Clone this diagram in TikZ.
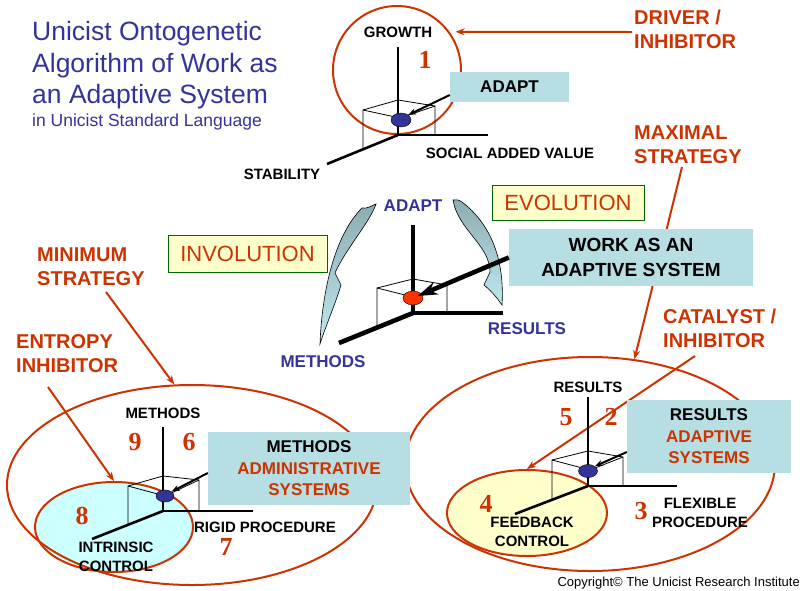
\documentclass[tikz,border=0pt]{standalone}
\usepackage{fontspec}
\setmainfont{Liberation Sans}
\newfontfamily\numfont{Liberation Serif}
\usetikzlibrary{arrows.meta,shapes.geometric}

\definecolor{titleblue}{RGB}{51,51,153}
\definecolor{accent}{RGB}{204,51,0}
\definecolor{boxteal}{RGB}{183,223,227}
\definecolor{paleyellow}{RGB}{255,255,204}
\definecolor{palecyan}{RGB}{204,255,255}
\definecolor{framegreen}{RGB}{0,102,0}
\definecolor{dotred}{RGB}{255,51,0}
\definecolor{flowtop}{RGB}{140,172,178}
\definecolor{flowbottom}{RGB}{190,232,238}

\newcommand\setfs[2]{\fontsize{#1}{#2}\selectfont}

% multi-line nodes below are placed by the baseline of their last line
\tikzset{
  titletext/.style={font=\setfs{26.5}{31.2}, text=titleblue, inner sep=0pt, anchor=base west, align=left},
  axislabel/.style={font=\setfs{15}{18.5}\bfseries, inner sep=0pt, align=center},
  bluelabel/.style={font=\setfs{17}{20}\bfseries, text=titleblue, inner sep=0pt},
  note/.style={font=\setfs{20}{24}\bfseries, text=accent, inner sep=0pt, align=left, anchor=base west},
  digit/.style={font=\numfont\setfs{26}{26}\bfseries, text=accent, inner sep=0pt},
  tealbox/.style={fill=boxteal, inner sep=0pt, align=center, font=\setfs{17}{21.5}\bfseries},
  stagebox/.style={fill=paleyellow, draw=framegreen, line width=1pt, text=accent, font=\setfs{22}{22}, inner sep=0pt},
  ring/.style={ellipse, draw=accent, line width=2pt, inner sep=0pt},
  axis/.style={line width=2.6pt},
  heavyaxis/.style={line width=4.6pt},
  frame/.style={line width=0.8pt},
  dot/.style={ellipse, inner sep=0pt, draw=black, line width=0.4pt},
  pointer/.style={draw=accent, line width=2pt, -{Stealth[length=9pt,width=7pt]}},
  boxptr/.style={line width=2pt, -{Stealth[length=8pt,width=6pt]}},
  bigptr/.style={line width=4.6pt, -{Stealth[length=20pt,width=13pt]}},
  flow/.style={top color=flowtop, bottom color=flowbottom, draw=black, line width=0.6pt},
}

\begin{document}
\begin{tikzpicture}[x=1pt,y=-1pt]
\useasboundingbox (0,0) rectangle (806,590);

% ---------- heading ----------
\node[titletext] (title) at (32,103.3) {Unicist Ontogenetic\\Algorithm of Work as\\an Adaptive System};
\node[titletext, font=\setfs{17.5}{20}] (subtitle) at (32,126) {in Unicist Standard Language};

% ---------- evolution / involution flows ----------
\path[flow] (376,204) .. controls (370,222) and (345,250) .. (335,273)
  -- (341,285) .. controls (335,305) and (326,325) .. (320,344)
  .. controls (322,290) and (335,235) .. (362,208)
  .. controls (367,209) and (371,206) .. (376,204) -- cycle;
\path[flow] (462,202) .. controls (488,222) and (505,255) .. (502,305)
  .. controls (496,296) and (489,289) .. (484,285)
  -- (490,272) .. controls (490,245) and (458,230) .. (453,200)
  .. controls (456,199) and (459,200) .. (462,202) -- cycle;

% ---------- filled inner fields ----------
\node[ring, fill=palecyan, minimum width=158pt, minimum height=90pt] (controlring) at (114,527) {};
\node[ring, fill=paleyellow, minimum width=160pt, minimum height=86pt] (feedbackring) at (527,513) {};

% ---------- outer rings ----------
\node[ring, minimum size=128pt] (growthring) at (397,70) {};
\node[ring, minimum width=370pt, minimum height=200pt] (leftring) at (192,485) {};
\node[ring, minimum width=370pt, minimum height=214pt] (rightring) at (590,464) {};

% ---------- strategy pointers ----------
\node[note] (driver) at (634,48) {DRIVER /\\INHIBITOR};
\node[note] (maximal) at (634,163) {MAXIMAL\\STRATEGY};
\node[note] (catalyst) at (663,347.5) {CATALYST /\\INHIBITOR};
\node[note] (minimum) at (37,285) {MINIMUM\\STRATEGY};
\node[note] (entropy) at (16,372) {ENTROPY\\INHIBITOR};

\coordinate (drivertail) at (632,32);
\coordinate (maximaltail) at (682,167);
\coordinate (catalysttail) at (695,356);
\coordinate (minimumtail) at (106,292);
\coordinate (entropytail) at (48,387);

\draw[pointer, shorten >=6pt] (drivertail) -- (growthring.36);
\draw[pointer] (maximaltail) -- (rightring.67.5);
\draw[pointer] (catalysttail) -- (feedbackring.north);
\draw[pointer] (minimumtail) -- (leftring.100);
\draw[pointer] (entropytail) -- (controlring.north);

% ---------- growth cube ----------
\draw[axis] (398,47) -- (398,135) -- (488,135);
\draw[axis] (398,135) -- (327,164);
\draw[frame] (363,149) -- (363,110) -- (398,100) -- (435,106) -- (435,135);
\draw[frame] (363,110) -- (400,118) -- (435,106);
\node[dot, fill=titleblue, minimum width=20pt, minimum height=14pt] (growthdot) at (401,120) {};

% ---------- central cube ----------
\draw[heavyaxis] (413,225) -- (413,313) -- (503,313);
\draw[heavyaxis] (413,313) -- (339,343);
\draw[frame] (377,327) -- (377,288) -- (413,279) -- (447,285) -- (447,313);
\draw[frame] (377,288) -- (413,297) -- (447,285);
\node[dot, fill=dotred, minimum width=20pt, minimum height=14pt] (coredot) at (413,298) {};

% ---------- methods cube ----------
\draw[axis] (163,427) -- (163,511) -- (253,511);
\draw[axis] (163,511) -- (92,539);
\draw[frame] (128,525) -- (128,486) -- (163,476) -- (199,480) -- (199,511);
\draw[frame] (128,486) -- (165,496) -- (199,480);
\node[dot, fill=titleblue, minimum width=18pt, minimum height=12pt] (methodsdot) at (165,496) {};

% ---------- results cube ----------
\draw[axis] (588,397) -- (588,486) -- (677,486);
\draw[axis] (588,486) -- (515,514);
\draw[frame] (552,500) -- (552,460) -- (588,451) -- (623,457) -- (623,486);
\draw[frame] (552,460) -- (590,470) -- (623,457);
\node[dot, fill=titleblue, minimum width=19pt, minimum height=13pt] (resultsdot) at (588,471) {};

% ---------- captions ----------
\node[tealbox, minimum width=119pt, minimum height=30pt] (adaptbox) at (509.5,87) {ADAPT};
\draw[boxptr] ([yshift=-8pt]adaptbox.west) -- (growthdot.north east);

\node[tealbox, minimum width=244pt, minimum height=57pt, font=\setfs{19}{25}\bfseries] (workbox) at (631,257.5) {WORK AS AN\\ADAPTIVE SYSTEM};
\draw[bigptr, shorten >=5pt] (workbox.west) -- (coredot.center);

\node[tealbox, minimum width=202pt, minimum height=73pt] (methodsbox) at (309,468.5) {METHODS\\\textcolor{accent}{ADMINISTRATIVE}\\\textcolor{accent}{SYSTEMS}};
\draw[boxptr] ([yshift=-4.5pt]methodsbox.west) -- (methodsdot.north east);

\node[tealbox, minimum width=164pt, minimum height=73pt] (resultsbox) at (709,436.5) {RESULTS\\\textcolor{accent}{ADAPTIVE}\\\textcolor{accent}{SYSTEMS}};
\draw[boxptr] ([yshift=-15.5pt]resultsbox.west) -- (resultsdot.north east);

\node[stagebox, minimum width=152pt, minimum height=35pt] (evolution) at (568,202.5) {EVOLUTION};
\node[stagebox, minimum width=159pt, minimum height=37pt] (involution) at (247.5,253.5) {INVOLUTION};

% ---------- axis labels ----------
\node[axislabel] (growth) at (398,32) {GROWTH};
\node[axislabel] (stability) at (282,174) {STABILITY};
\node[axislabel] (social) at (510,153) {SOCIAL ADDED VALUE};

\node[bluelabel] (adapt) at (413,206) {ADAPT};
\node[bluelabel] (results) at (527,328.5) {RESULTS};
\node[bluelabel] (methods) at (323,362) {METHODS};

\node[axislabel] (methodsaxis) at (163,413) {METHODS};
\node[axislabel] (rigid) at (265,527) {RIGID PROCEDURE};
\node[axislabel] (intrinsic) at (116,557) {INTRINSIC\\CONTROL};

\node[axislabel] (resultsaxis) at (588,387) {RESULTS};
\node[axislabel] (feedback) at (532,532) {FEEDBACK\\CONTROL};
\node[axislabel] (flexible) at (700,513) {FLEXIBLE\\PROCEDURE};

% ---------- stage numbers ----------
\node[digit] (n1) at (425,60) {1};
\node[digit] (n2) at (611,417) {2};
\node[digit] (n3) at (641,511) {3};
\node[digit] (n4) at (486,504) {4};
\node[digit] (n5) at (566,417) {5};
\node[digit] (n6) at (189,442) {6};
\node[digit] (n7) at (226,547) {7};
\node[digit] (n8) at (82,516) {8};
\node[digit] (n9) at (135,442) {9};

\node[font=\setfs{13}{15}, inner sep=0pt, anchor=base east] (copyright) at (800,586) {Copyright© The Unicist Research Institute};
\end{tikzpicture}
\end{document}
